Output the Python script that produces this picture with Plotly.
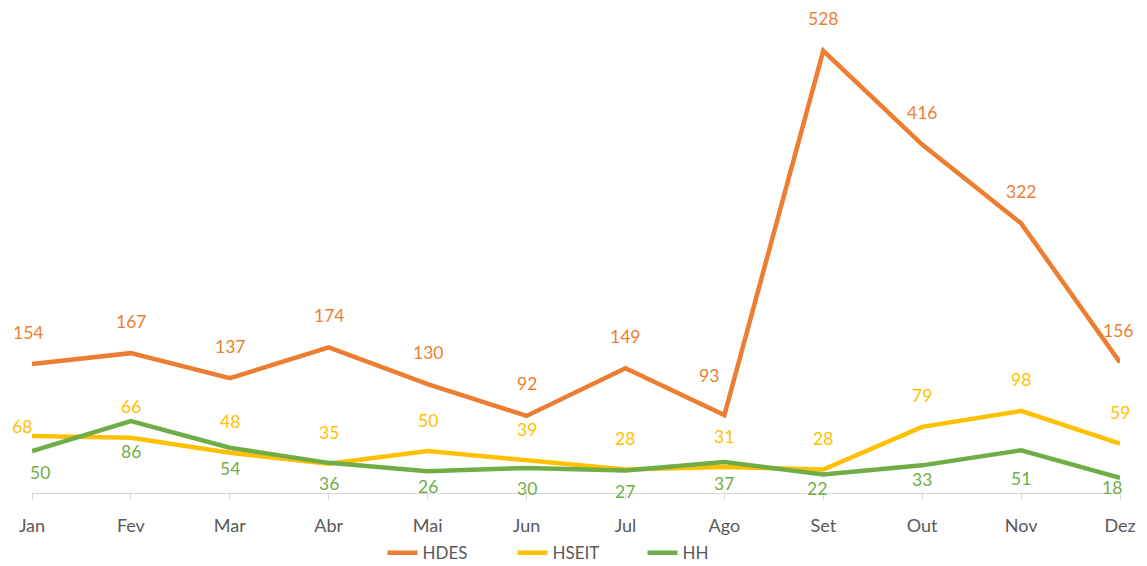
import plotly.graph_objects as go

months = ["Jan", "Fev", "Mar", "Abr", "Mai", "Jun", "Jul", "Ago", "Set", "Out", "Nov", "Dez"]
hdes = [154, 167, 137, 174, 130, 92, 149, 93, 528, 416, 322, 156]
hseit = [68, 66, 48, 35, 50, 39, 28, 31, 28, 79, 98, 59]
hh = [50, 86, 54, 36, 26, 30, 27, 37, 22, 33, 51, 18]

series = [
    ("HDES", hdes, "#ED7D31", 32),
    ("HSEIT", hseit, "#FFC000", 31),
    ("HH", hh, "#70AD47", -21),
]

# per-label nudges (style only) keyed by (series, month index): (xshift, yshift)
nudges = {
    ("HSEIT", 0): (-10, 10),
    ("HDES", 0): (-4, 32),
    ("HDES", 7): (-15, 40),
    ("HDES", 11): (-2, 32),
    ("HH", 0): (8, -21),
    ("HH", 1): (0, -31),
    ("HH", 4): (0, -15),
    ("HH", 8): (-6, -14),
    ("HH", 9): (0, -14),
    ("HH", 10): (0, -28),
    ("HH", 11): (-8, -10),
}

FONT = "Lato"
fig = go.Figure()
annotations = []
for name, vals, color, dy in series:
    fig.add_trace(go.Scatter(
        x=months, y=vals, name=name, mode="lines",
        line=dict(color=color, width=4.5),
    ))
    for i, (m, v) in enumerate(zip(months, vals)):
        xs, ys = nudges.get((name, i), (0, dy))
        annotations.append(dict(
            x=m, y=v, xref="x", yref="y", text=str(v), showarrow=False,
            xshift=xs, yshift=ys,
            font=dict(family=FONT, size=17.5, color=color),
        ))

# page body has an 8px margin, so the figure is sized/offset to compensate
fig.update_layout(
    width=1139, height=558,
    margin=dict(l=24, r=27, t=16, b=73, autoexpand=False),
    paper_bgcolor="white", plot_bgcolor="white",
    annotations=annotations,
    showlegend=True,
    legend=dict(orientation="h", x=0.5, xanchor="center", xref="container",
                y=0.023, yanchor="middle", yref="container",
                font=dict(family=FONT, size=17, color="#595959"),
                entrywidth=85, entrywidthmode="pixels"),
    font=dict(family=FONT),
)
fig.update_xaxes(
    type="category", range=[0, 11], showgrid=False, automargin=False,
    showline=True, linecolor="#d9d9d9", linewidth=1,
    ticks="outside", ticklen=6, tickcolor="#d9d9d9",
    tickfont=dict(family=FONT, size=18, color="#595959"),
    ticklabelstandoff=10,
)
fig.update_yaxes(range=[0, 560], visible=False, showgrid=False, zeroline=False)

fig.write_html("out.html")
